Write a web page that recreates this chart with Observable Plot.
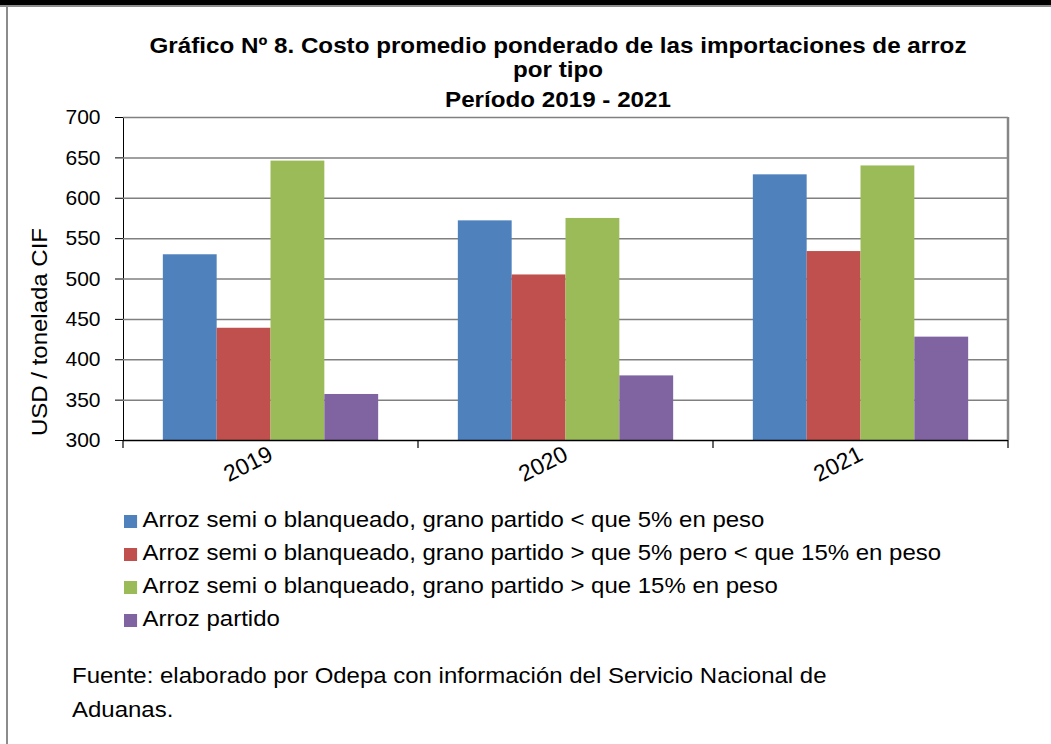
<!DOCTYPE html>
<html>
<head>
<meta charset="utf-8">
<script src="https://cdn.jsdelivr.net/npm/d3@7"></script>
<script src="https://cdn.jsdelivr.net/npm/@observablehq/plot@0.6"></script>
<style>
  html, body { margin: 0; padding: 0; background: #fff; }
  body { width: 1051px; height: 744px; position: relative; overflow: hidden; font-family: "Liberation Sans", Arial, sans-serif; color: #000; }
  .abs { position: absolute; }
  .title { left: 108px; width: 900px; text-align: center; font-weight: bold; font-size: 22px; white-space: nowrap; line-height: 24px; transform: scaleX(1.1); transform-origin: 450px 0; }
  .leg { left: 124px; font-size: 22px; height: 33px; line-height: 33px; white-space: nowrap; transform: scaleX(1.09); transform-origin: 0 0; }
  .leg span.sw { display: inline-block; width: 12px; height: 13px; margin-right: 5px; vertical-align: -1px; }
  .foot { left: 72px; font-size: 22px; line-height: 34px; white-space: nowrap; transform: scaleX(1.09); transform-origin: 0 0; }
  .ylab { left: 40px; top: 332px; font-size: 22px; white-space: nowrap; transform: translate(-50%, -50%) rotate(-90deg) scaleX(1.09); }
  #chart { position: absolute; left: 0; top: 100px; }
</style>
</head>
<body>
<div class="abs" style="left:0;top:0;width:1051px;height:5px;background:#000"></div>
<div class="abs" style="left:0;top:5px;width:1051px;height:2px;background:#8c8c8c"></div>
<div class="abs" style="left:6px;top:5px;width:2px;height:739px;background:#8c8c8c"></div>
<div class="abs title" style="top:34px">Gráfico Nº 8. Costo promedio ponderado de las importaciones de arroz</div>
<div class="abs title" style="top:58px">por tipo</div>
<div class="abs title" style="top:88px">Período 2019 - 2021</div>
<div id="chart"></div>
<div class="abs ylab" id="ylab"></div>
<div id="legend"></div>
<div class="abs foot" style="top:659px">Fuente: elaborado por Odepa con información del Servicio Nacional de<br>Aduanas.</div>
<script>
const years = ["2019", "2020", "2021"];
const series = [
  "Arroz semi o blanqueado, grano partido < que 5% en peso",
  "Arroz semi o blanqueado, grano partido > que 5% pero < que 15% en peso",
  "Arroz semi o blanqueado, grano partido > que 15% en peso",
  "Arroz partido"
];
const valuesLt5 = [530, 572, 629];
const values5to15 = [439, 505, 534];
const valuesGt15 = [646, 575, 640];
const valuesPartido = [357, 380, 428];
const colors = ["#4F81BD", "#C0504D", "#9BBB59", "#8064A2"];
const yTicks = [300, 350, 400, 450, 500, 550, 600, 650, 700];
const yTitle = "USD / tonelada CIF";

const seriesValues = [valuesLt5, values5to15, valuesGt15, valuesPartido];
const rows = [];
years.forEach((yr, i) => series.forEach((s, j) => rows.push({year: yr, series: s, value: seriesValues[j][i]})));

const plot = Plot.plot({
  width: 1051,
  height: 400,
  marginLeft: 123,
  marginRight: 43,
  marginTop: 17,
  marginBottom: 60,
  style: {fontFamily: "'Liberation Sans', Arial, sans-serif", fontSize: "21px", color: "#000", background: "transparent", overflow: "visible"},
  facet: {data: rows, x: "year"},
  fx: {domain: years, padding: 0, label: null, axis: "bottom", tickSize: 0, tickRotate: -27, tickPadding: 12},
  x: {domain: series, paddingInner: 0, paddingOuter: 0.74, round: false, axis: null},
  y: {domain: [yTicks[0], yTicks[yTicks.length - 1]], ticks: yTicks, tickSize: 8, tickPadding: 15, line: true, label: null},
  color: {domain: series, range: colors},
  marks: [
    Plot.ruleY(yTicks.slice(1), {stroke: "#808080", strokeWidth: 1.5}),
    Plot.barY(rows, {x: "series", y1: yTicks[0], y2: "value", fill: "series"}),
    Plot.ruleY([yTicks[0]], {stroke: "#000", strokeWidth: 1.5})
  ]
});
document.getElementById("chart").appendChild(plot);
document.getElementById("ylab").textContent = yTitle;

const svg = d3.select(plot);
svg.selectAll('g[aria-label="fx-axis"] text, g[aria-label="fx-axis tick label"] text').attr("font-size", 23);

// Outer frame pieces (right border and category-boundary ticks) from Plot's own scales
const fxs = plot.scale("fx");
const ys = plot.scale("y");
const band = d3.scaleBand().domain(fxs.domain).range(fxs.range).padding(0);
const yScale = d3.scaleLinear().domain(ys.domain).range(ys.range);
const bounds = years.map(y => band(y)).concat([band.range()[1]]);
const g = svg.append("g");
g.selectAll("line.tk").data(bounds).join("line")
  .attr("x1", d => d).attr("x2", d => d)
  .attr("y1", yScale(yTicks[0])).attr("y2", yScale(yTicks[0]) + 8)
  .attr("stroke", "#000").attr("stroke-width", 1.2);
g.append("line")
  .attr("x1", band.range()[1]).attr("x2", band.range()[1])
  .attr("y1", yScale(yTicks[yTicks.length - 1])).attr("y2", yScale(yTicks[0]))
  .attr("stroke", "#868686").attr("stroke-width", 2.5);

// Legend
const leg = d3.select("#legend");
series.forEach((s, i) => {
  const row = leg.append("div").attr("class", "abs leg").style("top", (503 + i * 33) + "px");
  row.append("span").attr("class", "sw").style("background", colors[i]);
  row.append("span").text(s);
});
</script>
</body>
</html>
